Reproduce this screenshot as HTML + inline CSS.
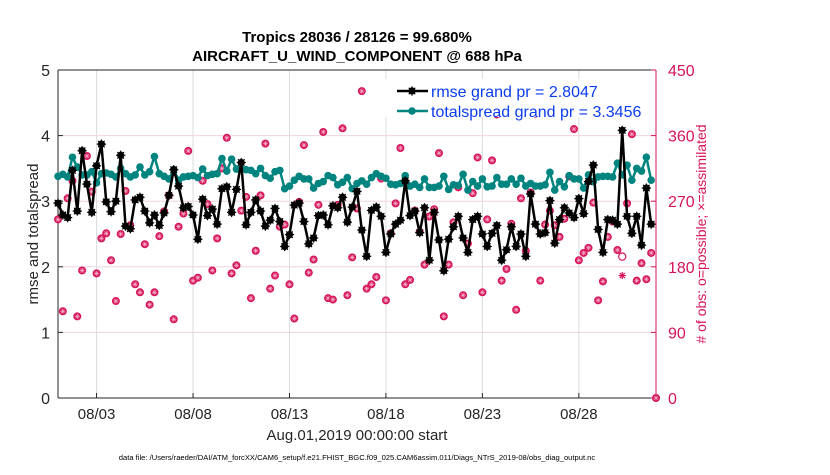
<!DOCTYPE html>
<html><head><meta charset="utf-8">
<style>
body{margin:0;background:#fff;width:830px;height:470px;overflow:hidden;font-family:"Liberation Sans",sans-serif;}
svg text{font-family:"Liberation Sans",sans-serif;}
</style></head>
<body>
<svg id="chart" width="830" height="470" viewBox="0 0 830 470">
</svg>
<script>
const rmse=[2.97,2.79,2.75,3.47,2.85,3.77,3.26,2.83,3.54,3.87,2.99,2.84,3.0,3.7,2.62,2.58,3.02,3.06,2.85,2.67,2.79,2.63,2.82,3.09,3.48,3.23,2.9,2.92,2.79,2.42,3.03,2.78,
2.88,2.65,3.19,3.22,2.83,3.18,3.59,2.64,2.83,3.02,2.85,2.62,2.71,2.89,2.69,2.31,2.49,2.94,2.97,2.69,2.35,2.44,2.78,2.79,2.64,2.93,2.9,3.06,2.68,2.91,3.15,
2.56,2.16,2.86,2.91,2.77,2.22,2.5,2.65,2.71,3.31,2.78,2.85,2.52,2.9,2.1,2.83,2.41,1.94,2.42,2.61,2.77,2.44,2.22,2.72,2.77,2.5,2.31,2.51,2.63,2.1,2.26,
2.61,2.31,2.5,2.16,3.11,2.65,2.5,2.52,3.01,2.36,2.72,2.9,2.82,2.75,3.04,2.81,3.3,3.55,2.57,2.22,2.72,2.71,2.65,4.08,2.77,2.51,2.77,2.33,3.2,2.65];
const spread=[3.38,3.41,3.37,3.67,3.52,3.4,3.4,3.45,3.28,3.42,3.43,3.41,3.37,3.5,3.42,3.37,3.4,3.52,3.4,3.45,3.68,3.42,3.38,3.34,3.48,3.32,3.37,3.38,3.39,3.36,3.49,3.39,
3.41,3.42,3.65,3.46,3.64,3.49,3.49,3.48,3.47,3.42,3.5,3.39,3.35,3.45,3.47,3.19,3.23,3.32,3.38,3.34,3.34,3.2,3.27,3.3,3.39,3.36,3.25,3.29,3.36,3.19,3.27,
3.31,3.26,3.36,3.42,3.38,3.35,3.26,3.25,3.27,3.39,3.23,3.26,3.21,3.34,3.21,3.21,3.23,3.38,3.18,3.25,3.24,3.41,3.17,3.3,3.23,3.34,3.22,3.23,3.36,3.26,3.26,
3.34,3.26,3.35,3.23,3.27,3.23,3.23,3.25,3.44,3.17,3.3,3.22,3.39,3.34,3.34,3.2,3.4,3.3,3.37,3.38,3.38,3.37,3.58,3.4,3.55,3.32,3.5,3.46,3.67,3.32];
const obsPossible=[245,119,274,298,112,175,332,283,171,219,226,189,133,225,284,237,156,145,211,128,145,222,256,278,108,235,253,339,161,165,298,266,
175,219,315,357,171,182,257,276,137,202,278,349,150,168,235,238,156,109,269,347,172,190,265,365,137,135,265,370,141,193,260,
421,150,156,166,301,134,226,267,343,156,162,257,228,183,249,259,336,112,183,241,289,141,212,281,330,145,245,326,389,161,177,
239,121,274,202,282,390,161,238,257,237,221,246,304,369,189,199,206,268,134,160,221,242,203,194,267,362,161,185,163,199,0];
const obsAssim=[245,119,274,298,112,175,332,283,171,219,226,189,133,225,284,237,156,145,211,128,145,222,256,278,108,235,253,339,161,165,298,266,
175,219,315,357,171,182,257,276,137,202,278,349,150,168,235,238,156,109,269,347,172,190,265,365,137,135,265,370,141,193,260,
421,150,156,166,301,134,226,267,343,156,162,257,228,183,249,259,336,112,183,241,289,141,212,281,330,145,245,326,389,161,177,
239,121,274,202,282,390,161,238,257,237,221,246,304,369,189,199,206,268,134,160,221,242,203,168,267,362,161,185,163,199,0];
const leftTicks=[0,1,2,3,4,5];
const rightTicks=[0,90,180,270,360,450];
const dateTicks=[2,7,12,17,22,27];
const dateLabels=["08/03","08/08","08/13","08/18","08/23","08/28"];

const svg=document.getElementById('chart');
const NS='http://www.w3.org/2000/svg';
const L=58,R=656,T=70,B=398;
const xS=d=>L+(d/31)*(R-L);
const yL=v=>B-(v/5)*(B-T);
const yR=v=>B-(v/450)*(B-T);
function mk(tag,attrs,parent){const e=document.createElementNS(NS,tag);for(const k in attrs)e.setAttribute(k,attrs[k]);(parent||svg).appendChild(e);return e;}
function txt(s,attrs,parent){const e=mk('text',attrs,parent);e.textContent=s;return e;}
const PINK='#d6145a';

const grid=mk('g',{});


dateTicks.forEach(d=>{mk('line',{x1:xS(d),x2:xS(d),y1:T,y2:B,stroke:'#dcdcdc','stroke-width':1},grid);});
leftTicks.slice(1,5).forEach(v=>{mk('line',{x1:L,x2:R,y1:yL(v),y2:yL(v),stroke:'#f0d4dc','stroke-width':1},grid);});

const ax=mk('g',{});


mk('line',{x1:L,x2:L,y1:T,y2:B,stroke:'#262626','stroke-width':1},ax);
mk('line',{x1:L,x2:R,y1:T,y2:T,stroke:'#262626','stroke-width':1},ax);
mk('line',{x1:L,x2:R,y1:B,y2:B,stroke:'#262626','stroke-width':1},ax);
mk('line',{x1:R,x2:R,y1:T,y2:B,stroke:PINK,'stroke-width':1},ax);
leftTicks.forEach(v=>{
  mk('line',{x1:L,x2:L+5,y1:yL(v),y2:yL(v),stroke:'#262626'},ax);
  const t=txt(String(v),{x:L-8,y:yL(v)+6,'text-anchor':'end','font-size':16,fill:'#262626'},ax);
  
  
});
rightTicks.forEach(v=>{
  mk('line',{x1:R-5,x2:R,y1:yR(v),y2:yR(v),stroke:PINK},ax);
  const t=txt(String(v),{x:R+12,y:yR(v)+6,'font-size':16,fill:PINK},ax);
  
  
});
dateTicks.forEach((d,i)=>{
  mk('line',{x1:xS(d),x2:xS(d),y1:B,y2:B-5,stroke:'#262626'},ax);
  const t=txt(dateLabels[i],{x:xS(d),y:B+21,'text-anchor':'middle','font-size':15,fill:'#262626'},ax);
  
  
});

const og=mk('g',{});


function star(x,y,r,col,parent,w){
  for(let a=0;a<4;a++){const an=a*Math.PI/4;mk('line',{x1:x-r*Math.cos(an),y1:y-r*Math.sin(an),x2:x+r*Math.cos(an),y2:y+r*Math.sin(an),stroke:col,'stroke-width':w||1.2},parent);}
}
obsPossible.forEach((v,i)=>{
  const x=xS(i*0.25),y=yR(v);
  if(obsAssim[i]!==v){
    mk('circle',{cx:x,cy:y,r:3.6,fill:'#fff',stroke:PINK,'stroke-width':1.2},og);
    star(x,yR(obsAssim[i]),3.6,PINK,og,1.2);
  } else {
    mk('circle',{cx:x,cy:y,r:4,fill:PINK},og);
    star(x,y,2.6,'#f6b8cf',og,0.6);
  }
});

const sg=mk('g',{});


mk('polyline',{points:spread.map((v,i)=>xS(i*0.25)+','+yL(v)).join(' '),fill:'none',stroke:'#00847f','stroke-width':2.5},sg);
spread.forEach((v,i)=>mk('circle',{cx:xS(i*0.25),cy:yL(v),r:3.8,fill:'#00847f'},sg));

const rg=mk('g',{});


mk('polyline',{points:rmse.map((v,i)=>xS(i*0.25)+','+yL(v)).join(' '),fill:'none',stroke:'#000','stroke-width':2.5},rg);
rmse.forEach((v,i)=>{mk('circle',{cx:xS(i*0.25),cy:yL(v),r:3.6,fill:'#000'},rg);star(xS(i*0.25),yL(v),4.6,'#000',rg,1.2);});

const lg=mk('g',{});


mk('rect',{x:385,y:79,width:258,height:38,fill:'#fff'},lg);
const le1=mk('g',{},lg);


mk('line',{x1:397,x2:428,y1:91,y2:91,stroke:'#000','stroke-width':2.5},le1);
mk('circle',{cx:412,cy:91,r:3.6,fill:'#000'},le1);star(412,91,4.6,'#000',le1,1.2);
txt('rmse grand pr = 2.8047',{x:431,y:97,'font-size':16,fill:'#0a3cf0'},le1);
const le2=mk('g',{},lg);


mk('line',{x1:397,x2:428,y1:111,y2:111,stroke:'#00847f','stroke-width':2.5},le2);
mk('circle',{cx:412,cy:111,r:3.8,fill:'#00847f'},le2);
txt('totalspread grand pr = 3.3456',{x:431,y:117,'font-size':16,fill:'#0a3cf0'},le2);

const t1=txt('Tropics 28036 / 28126 = 99.680%',{x:357,y:42,'text-anchor':'middle','font-size':15,'font-weight':'bold',fill:'#000'});


const t2=txt('AIRCRAFT_U_WIND_COMPONENT @ 688 hPa',{x:357,y:61,'text-anchor':'middle','font-size':15,'font-weight':'bold',fill:'#000'});


const yl=txt('rmse and totalspread',{x:0,y:0,'text-anchor':'middle','font-size':15,fill:'#262626',transform:'translate(38,234) rotate(-90)'});


const yr=txt('# of obs: o=possible; \u00d7=assimilated',{x:0,y:0,'text-anchor':'middle','font-size':14,fill:PINK,transform:'translate(706,234) rotate(-90)'});


const xl=txt('Aug.01,2019 00:00:00 start',{x:357,y:440,'text-anchor':'middle','font-size':15,fill:'#262626'});


const ft=txt('data file: /Users/raeder/DAI/ATM_forcXX/CAM6_setup/f.e21.FHIST_BGC.f09_025.CAM6assim.011/Diags_NTrS_2019-08/obs_diag_output.nc',{x:357,y:460,'text-anchor':'middle','font-size':7.6,fill:'#000'});


</script>
</body></html>
